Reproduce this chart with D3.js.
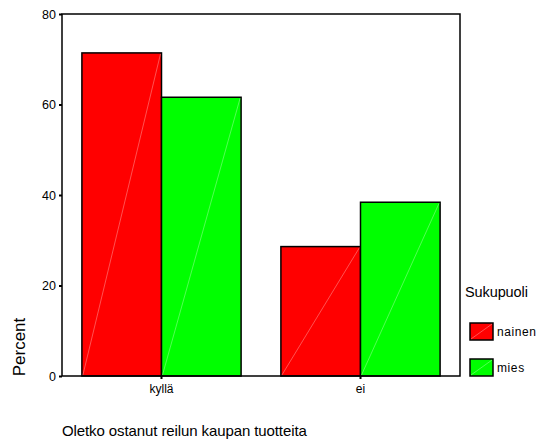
<!DOCTYPE html>
<html>
<head>
<meta charset="utf-8">
<script src="https://cdn.jsdelivr.net/npm/d3@7"></script>
<style>
  html, body { margin: 0; padding: 0; background: #fff; }
  svg { display: block; font-family: "Liberation Sans", Arial, sans-serif; }
</style>
</head>
<body>
<svg id="chart" width="541" height="439"></svg>
<script>
// Share of respondents who have bought fair-trade products, by gender
const categories = ["kyllä", "ei"];
const groups = ["nainen", "mies"];
const nainenValues = [71.4, 28.6];
const miesValues = [61.6, 38.4];
const yTicks = [0, 20, 40, 60, 80];
const groupColors = ["#ff0000", "#00ff00"];

const seriesValues = [nainenValues, miesValues];
const rows = [];
categories.forEach((c, ci) => {
  groups.forEach((g, gi) => rows.push({ cat: c, group: g, gi, value: seriesValues[gi][ci] }));
});

const svg = d3.select("#chart");
const plot = { left: 62, top: 14, right: 460, bottom: 376 };

const x0 = d3.scaleBand()
  .domain(categories)
  .range([plot.left, plot.right])
  .paddingInner(0.2)
  .paddingOuter(0.1);
const x1 = d3.scaleBand().domain(groups).range([0, x0.bandwidth()]);
const y = d3.scaleLinear().domain([0, 80]).range([plot.bottom, plot.top]);
const color = d3.scaleOrdinal().domain(groups).range(groupColors);

// bars
const bars = svg.append("g").selectAll("g.bar").data(rows).join("g").attr("class", "bar");
bars.append("rect")
  .attr("x", d => x0(d.cat) + x1(d.group))
  .attr("y", d => y(d.value))
  .attr("width", x1.bandwidth())
  .attr("height", d => y(0) - y(d.value))
  .attr("fill", d => color(d.group))
  .attr("stroke", "#000")
  .attr("stroke-width", 1.5);
// faint diagonal hatch line across each bar
bars.append("line")
  .attr("x1", d => x0(d.cat) + x1(d.group) + 1)
  .attr("y1", y(0) - 1)
  .attr("x2", d => x0(d.cat) + x1(d.group) + x1.bandwidth() - 1)
  .attr("y2", d => y(d.value) + 1)
  .attr("stroke", "rgba(255,255,255,0.4)")
  .attr("stroke-width", 0.8);

// frame
svg.append("rect")
  .attr("x", plot.left).attr("y", plot.top)
  .attr("width", plot.right - plot.left).attr("height", plot.bottom - plot.top)
  .attr("fill", "none").attr("stroke", "#000").attr("stroke-width", 1.5);

// y axis
const yAxis = svg.append("g")
  .attr("transform", `translate(${plot.left},0)`)
  .call(d3.axisLeft(y).tickValues(yTicks).tickSize(3).tickPadding(3).tickFormat(d3.format("d")));
yAxis.select(".domain").remove();
yAxis.selectAll(".tick line").attr("stroke", "#000").attr("stroke-width", 2);
yAxis.selectAll(".tick text").attr("font-size", 12.5).attr("fill", "#000")
  .attr("font-family", "Liberation Sans, Arial, sans-serif");

// x axis ticks at category centres
const xAxis = svg.append("g")
  .attr("transform", `translate(0,${plot.bottom})`)
  .call(d3.axisBottom(x0).tickSize(3).tickPadding(5));
xAxis.select(".domain").remove();
xAxis.selectAll(".tick line").attr("stroke", "#000").attr("stroke-width", 2);
xAxis.selectAll(".tick text").attr("font-size", 12).attr("fill", "#000")
  .attr("font-family", "Liberation Sans, Arial, sans-serif");

// axis titles
svg.append("text")
  .attr("transform", "translate(25,347) rotate(-90)")
  .attr("text-anchor", "middle")
  .attr("font-size", 17)
  .text("Percent");
svg.append("text")
  .attr("x", 62).attr("y", 436)
  .attr("font-size", 15)
  .attr("letter-spacing", -0.1)
  .text("Oletko ostanut reilun kaupan tuotteita");

// legend
svg.append("text")
  .attr("x", 465).attr("y", 297)
  .attr("font-size", 14.5)
  .attr("letter-spacing", -0.1)
  .text("Sukupuoli");
const leg = svg.append("g").selectAll("g").data(groups).join("g")
  .attr("transform", (d, i) => `translate(470,${323 + i * 36})`);
leg.append("rect")
  .attr("width", 23).attr("height", 17)
  .attr("fill", d => color(d)).attr("stroke", "#000").attr("stroke-width", 1.5);
leg.append("line")
  .attr("x1", 1).attr("y1", 16).attr("x2", 22).attr("y2", 1)
  .attr("stroke", "rgba(255,255,255,0.4)").attr("stroke-width", 0.8);
leg.append("text")
  .attr("x", 27).attr("y", 13)
  .attr("font-size", 12)
  .attr("letter-spacing", 0.6)
  .text(d => d);
</script>
</body>
</html>
